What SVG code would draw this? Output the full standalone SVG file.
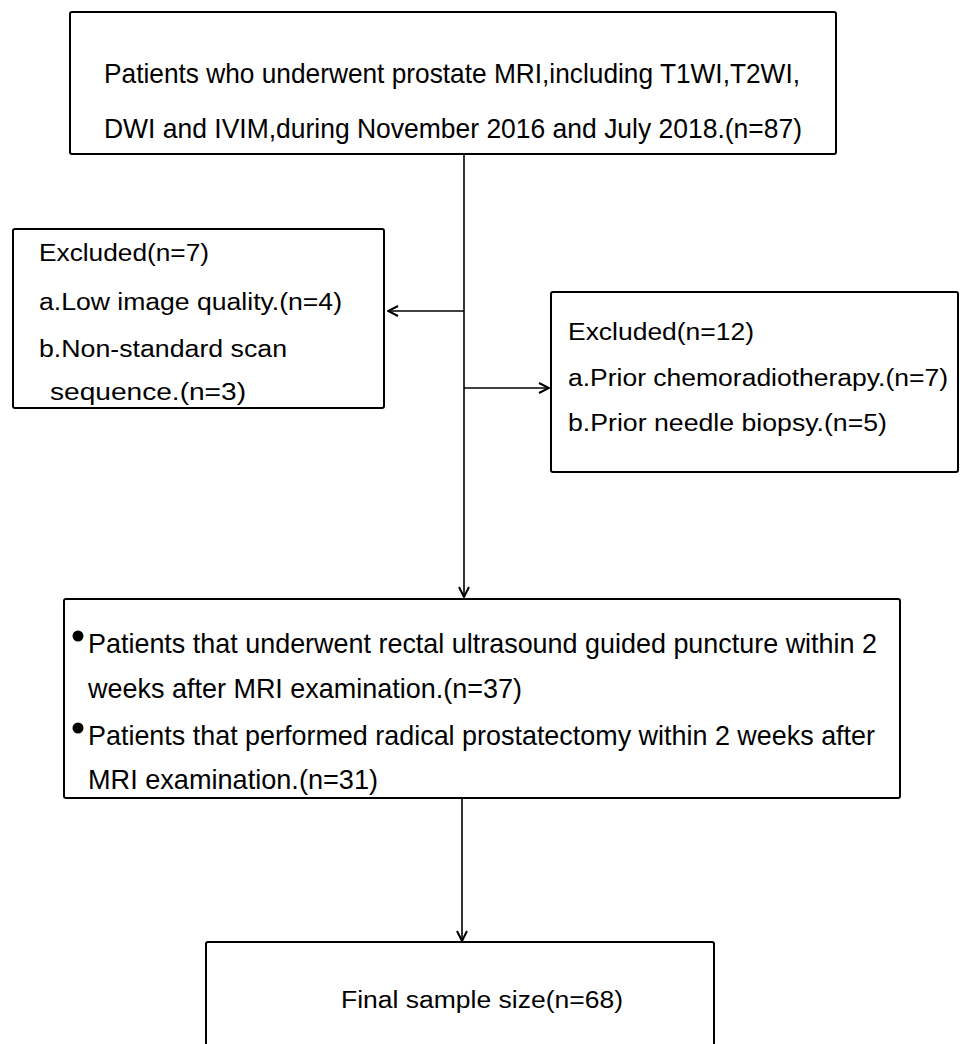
<svg xmlns="http://www.w3.org/2000/svg" width="960" height="1044" viewBox="0 0 960 1044">
<defs>
<marker id="arr" viewBox="0 0 12 12" refX="11" refY="6" markerWidth="12" markerHeight="12" markerUnits="userSpaceOnUse" orient="auto">
<path d="M1,1 L11,6 L1,11" fill="none" stroke="#000" stroke-width="2"/>
</marker>
<style>
.box{fill:#fff;stroke:#000;stroke-width:2}
.t{font-family:"Liberation Sans",Arial,sans-serif;font-size:23.5px;fill:#000}
.n{font-family:"Liberation Sans Narrow","Liberation Sans",Arial,sans-serif;font-size:28px;fill:#000}
.ln{stroke:#000;stroke-width:1.6;fill:none}
</style>
</defs>
<rect width="960" height="1044" fill="#fff"/>
<g id="connectors">
<line class="ln" x1="464" y1="154" x2="464" y2="597" marker-end="url(#arr)"/>
<line class="ln" x1="464" y1="311" x2="388" y2="311" marker-end="url(#arr)"/>
<line class="ln" x1="464" y1="388" x2="549" y2="388" marker-end="url(#arr)"/>
<line class="ln" x1="462" y1="798" x2="462" y2="941" marker-end="url(#arr)"/>
</g>
<g id="node-start">
<rect class="box" x="70" y="12" width="766" height="142" rx="2"/>
<text class="n" x="104" y="83" textLength="696" lengthAdjust="spacingAndGlyphs">Patients who underwent prostate MRI,including T1WI,T2WI,</text>
<text class="n" x="104" y="138" textLength="698" lengthAdjust="spacingAndGlyphs">DWI and IVIM,during November 2016 and July 2018.(n=87)</text>
</g>
<g id="node-excl1">
<rect class="box" x="13" y="229" width="371" height="179" rx="2"/>
<text class="t" x="39" y="261" textLength="170" lengthAdjust="spacingAndGlyphs">Excluded(n=7)</text>
<text class="t" x="39" y="310" textLength="303" lengthAdjust="spacingAndGlyphs">a.Low image quality.(n=4)</text>
<text class="t" x="39" y="357" textLength="248" lengthAdjust="spacingAndGlyphs">b.Non-standard scan</text>
<text class="t" x="50" y="400" textLength="196" lengthAdjust="spacingAndGlyphs">sequence.(n=3)</text>
</g>
<g id="node-excl2">
<rect class="box" x="551" y="292" width="407" height="180" rx="2"/>
<text class="t" x="568" y="340" textLength="186" lengthAdjust="spacingAndGlyphs">Excluded(n=12)</text>
<text class="t" x="568" y="386" textLength="380" lengthAdjust="spacingAndGlyphs">a.Prior chemoradiotherapy.(n=7)</text>
<text class="t" x="568" y="431" textLength="319" lengthAdjust="spacingAndGlyphs">b.Prior needle biopsy.(n=5)</text>
</g>
<g id="node-included">
<rect class="box" x="64" y="599" width="836" height="199" rx="2"/>
<circle cx="78" cy="636" r="5.5"/>
<text class="n" x="88" y="653" textLength="789" lengthAdjust="spacingAndGlyphs">Patients that underwent rectal ultrasound guided puncture within 2</text>
<text class="n" x="88" y="698" textLength="434" lengthAdjust="spacingAndGlyphs">weeks after MRI examination.(n=37)</text>
<circle cx="78" cy="728" r="5.5"/>
<text class="n" x="88" y="745" textLength="787" lengthAdjust="spacingAndGlyphs">Patients that performed radical prostatectomy within 2 weeks after</text>
<text class="n" x="88" y="789" textLength="290" lengthAdjust="spacingAndGlyphs">MRI examination.(n=31)</text>
</g>
<g id="node-final">
<rect class="box" x="206" y="942" width="508" height="120" rx="2"/>
<text class="t" x="341" y="1008" textLength="282" lengthAdjust="spacingAndGlyphs">Final sample size(n=68)</text>
</g>
</svg>
